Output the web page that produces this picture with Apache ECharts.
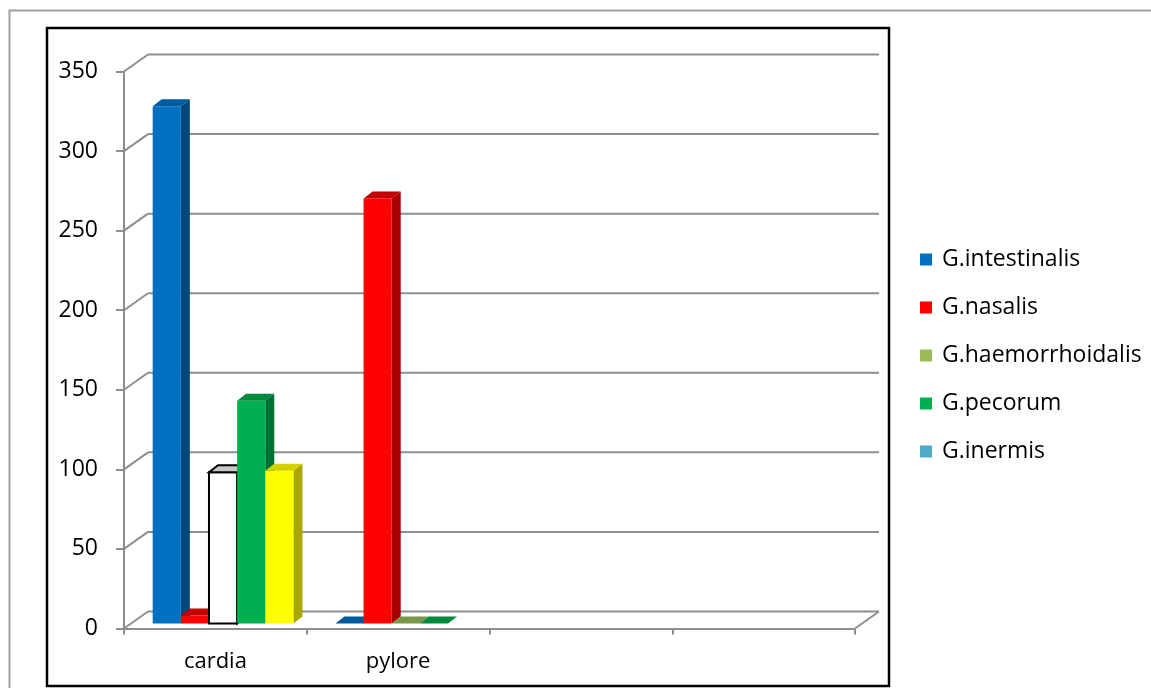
<!DOCTYPE html>
<html>
<head>
<meta charset="utf-8">
<script src="https://cdn.jsdelivr.net/npm/echarts@6/dist/echarts.min.js"></script>
<style>
  html, body { margin: 0; padding: 0; background: #ffffff; }
  #chart { width: 1151px; height: 688px; }
</style>
</head>
<body>
<div id="chart"></div>
<script>
// Categories on the horizontal axis (two empty slots at the right)
const categories = ['cardia', 'pylore', '', ''];

// Series names and their values per category
const seriesNames = ['G.intestinalis', 'G.nasalis', 'G.haemorrhoidalis', 'G.pecorum', 'G.inermis'];
const intestinalis = [325, 0];
const nasalis = [5, 267];
const haemorrhoidalis = [95, 0];
const pecorum = [140, 0];
const inermis = [96, null];

// Value-axis ticks
const yTicks = [0, 50, 100, 150, 200, 250, 300, 350];

const seriesValues = [intestinalis, nasalis, haemorrhoidalis, pecorum, inermis];

// Face colours for the pseudo-3D columns: front, side, top
const palette = [
  { legend: '#0070C0', front: '#0070C0', side: '#00487C', top: '#005A9E' },
  { legend: '#FF0000', front: '#FF0000', side: '#A80000', top: '#C40000' },
  { legend: '#9BBB59', front: '#9BBB59', side: '#6F8A3C', top: '#7A9848' },
  { legend: '#00B050', front: '#00B050', side: '#007030', top: '#008A3E' },
  { legend: '#4BACC6', front: '#4BACC6', side: '#2F7F95', top: '#3C93AB' }
];
// Individual columns with their own fill (key: seriesIndex-categoryIndex)
const pointStyles = {
  '2-0': { front: '#FFFFFF', side: '#FFFFFF', top: '#C8C8C8', stroke: '#000000' },
  '4-0': { front: '#FFFF00', side: '#A8A800', top: '#D2D200' }
};

// Geometry of the 3D look
const WALL_DX = 24, WALL_DY = 17;     // back wall offset
const BAR_DX = 9, BAR_DY = 7;         // column depth
const BAR_LIFT = 5;                   // columns stand slightly behind the front edge
const SLOT_OFFSET = 0.157;            // first column offset inside a category band
const SLOT_W = 0.154;                 // column width as share of a band

const GRID_COLOR = '#8E8E8E';
const FONT = '"Open Sans", "Noto Sans", sans-serif';

function barRenderer(sIdx) {
  return function (params, api) {
    const cat = api.value(0);
    const val = api.value(1);
    if (val == null || isNaN(val)) return;
    const band = api.size([1, 0])[0];
    const base = api.coord([cat, 0]);
    const topP = api.coord([cat, val]);
    const w = band * SLOT_W;
    const x0 = base[0] - band / 2 + band * SLOT_OFFSET + sIdx * w;
    const yB = base[1] - BAR_LIFT;
    const yT = topP[1] - BAR_LIFT;
    const st = Object.assign({}, palette[sIdx], pointStyles[sIdx + '-' + cat] || {});
    const stroke = st.stroke || null;
    const lw = stroke ? 2 : 0;
    const children = [];
    if (yB - yT > 0.5) {
      children.push({
        type: 'polygon',
        shape: { points: [[x0 + w, yT], [x0 + w + BAR_DX, yT - BAR_DY], [x0 + w + BAR_DX, yB - BAR_DY], [x0 + w, yB]] },
        style: { fill: st.side, stroke: stroke, lineWidth: lw }
      });
      children.push({
        type: 'rect',
        shape: { x: x0, y: yT, width: w, height: yB - yT },
        style: { fill: st.front, stroke: stroke, lineWidth: lw }
      });
    }
    children.push({
      type: 'polygon',
      shape: { points: [[x0, yT], [x0 + BAR_DX, yT - BAR_DY], [x0 + w + BAR_DX, yT - BAR_DY], [x0 + w, yT]] },
      style: { fill: st.top, stroke: stroke, lineWidth: lw }
    });
    return { type: 'group', children: children };
  };
}

// Back wall gridlines, left-wall diagonals and the floor edge
function frameRenderer(params, api) {
  const v = api.value(1);
  const band = api.size([1, 0])[0];
  const p = api.coord([0, v]);
  const xL = p[0] - band / 2;
  const xR = xL + band * categories.length;
  const y = p[1];
  const ls = { stroke: GRID_COLOR, lineWidth: 2, fill: null };
  const children = [
    { type: 'line', shape: { x1: xL, y1: y, x2: xL + WALL_DX, y2: y - WALL_DY }, style: ls },
    { type: 'line', shape: { x1: xL + WALL_DX, y1: y - WALL_DY, x2: xR + WALL_DX, y2: y - WALL_DY }, style: ls }
  ];
  if (v === 0) {
    children.push({ type: 'line', shape: { x1: xR, y1: y, x2: xR + WALL_DX, y2: y - WALL_DY }, style: ls });
  }
  return { type: 'group', children: children };
}

const series = [{
  type: 'custom',
  silent: true,
  z: 1,
  data: yTicks.map(v => [0, v]),
  encode: { x: 0, y: 1 },
  renderItem: frameRenderer
}];

seriesNames.forEach((name, i) => {
  series.push({
    name: name,
    type: 'custom',
    z: 5,
    itemStyle: { color: palette[i].legend },
    data: seriesValues[i].map((v, c) => [c, v]),
    encode: { x: 0, y: 1 },
    renderItem: barRenderer(i)
  });
});

const chart = echarts.init(document.getElementById('chart'), null, { renderer: 'canvas' });
chart.setOption({
  animation: false,
  backgroundColor: '#ffffff',
  grid: { left: 124, top: 71.5, width: 731, height: 557 },
  legend: {
    data: seriesNames,
    orient: 'vertical',
    left: 915,
    top: 242,
    icon: 'rect',
    itemWidth: 12,
    itemHeight: 12,
    itemGap: 23,
    selectedMode: false,
    textStyle: { fontFamily: FONT, fontSize: 23, color: '#000000', lineHeight: 25, padding: [0, 0, 0, 5] }
  },
  xAxis: {
    type: 'category',
    data: categories,
    boundaryGap: true,
    axisLine: { show: true, lineStyle: { color: GRID_COLOR, width: 2 } },
    axisTick: { show: true, interval: 0, length: 6, lineStyle: { color: GRID_COLOR, width: 2 } },
    axisLabel: { interval: 0, margin: 22, fontFamily: FONT, fontSize: 22, color: '#000000' },
    splitLine: { show: false }
  },
  yAxis: {
    type: 'value',
    min: yTicks[0],
    max: yTicks[yTicks.length - 1],
    interval: yTicks[1] - yTicks[0],
    axisLine: { show: true, lineStyle: { color: GRID_COLOR, width: 2 } },
    axisTick: { show: true, length: 8, lineStyle: { color: GRID_COLOR, width: 2 } },
    axisLabel: { margin: 26, fontFamily: FONT, fontSize: 23, color: '#000000' },
    splitLine: { show: false }
  },
  graphic: [
    { type: 'rect', silent: true, z: -10, shape: { x: 9.5, y: 10.5, width: 1160, height: 700 },
      style: { fill: null, stroke: '#A0A0A0', lineWidth: 2 } },
    { type: 'rect', silent: true, z: -10, shape: { x: 47, y: 28, width: 842, height: 658 },
      style: { fill: null, stroke: '#000000', lineWidth: 2.5 } }
  ],
  series: series
});
</script>
</body>
</html>
